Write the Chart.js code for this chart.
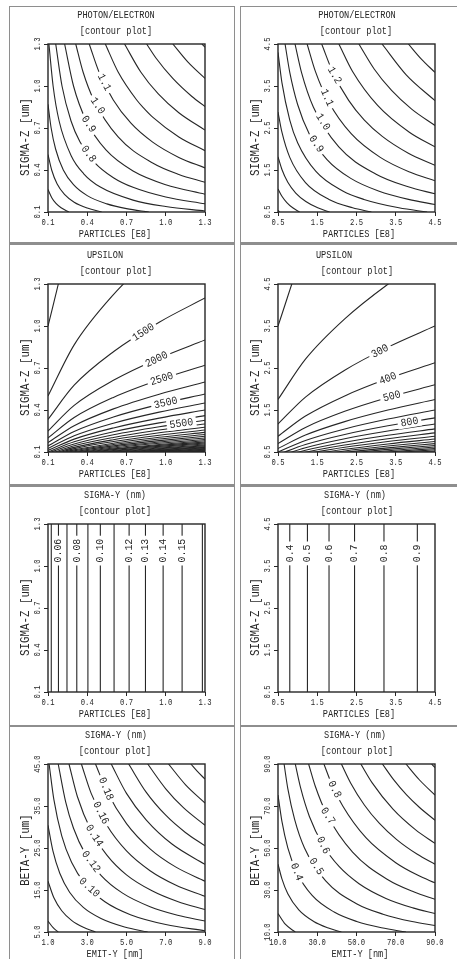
<!DOCTYPE html>
<html>
<head>
<meta charset="utf-8">
<title>contour plots</title>
<script src="https://cdn.jsdelivr.net/npm/chart.js@4.4.1/dist/chart.umd.min.js"></script>
<style>
  html, body { margin: 0; padding: 0; background: #fff; }
  body { position: relative; width: 457px; height: 959px; overflow: hidden; }
  canvas { position: absolute; z-index: 1; }
  .rule { position: absolute; background: #8e8e8e; z-index: 2; }
</style>
</head>
<body>
<script>
// tick labels
const partTicksA = [0.1, 0.4, 0.7, 1.0, 1.3]
const partTicksB = [0.5, 1.5, 2.5, 3.5, 4.5]
const emitTicksA = [1.0, 3.0, 5.0, 7.0, 9.0]
const betaTicksA = [5.0, 15.0, 25.0, 35.0, 45.0]
const emitTicksB = [10.0, 30.0, 50.0, 70.0, 90.0]
const betaTicksB = [10.0, 30.0, 50.0, 70.0, 90.0]

// photon/electron, left
const photonA = [
  [[0.1,0.26],[0.13,0.2],[0.161,0.161],[0.2,0.13],[0.26,0.1]],
  [[0.1,0.51],[0.128,0.4],[0.17,0.3],[0.226,0.226],[0.3,0.17],[0.4,0.128],[0.51,0.1]],
  [[0.1,0.87],[0.124,0.7],[0.158,0.55],[0.217,0.4],[0.295,0.295],[0.4,0.217],[0.55,0.158],[0.7,0.124],[0.87,0.1]],
  [[0.107,1.3],[0.139,1.0],[0.185,0.75],[0.278,0.5],[0.373,0.373],[0.5,0.278],[0.75,0.185],[1.0,0.139],[1.3,0.107]],
  [[0.159,1.3],[0.207,1.0],[0.276,0.75],[0.345,0.6],[0.455,0.455],[0.6,0.345],[0.75,0.276],[1.0,0.207],[1.3,0.159]],
  [[0.227,1.3],[0.295,1.0],[0.393,0.75],[0.543,0.543],[0.75,0.393],[1.0,0.295],[1.3,0.227]],
  [[0.312,1.3],[0.368,1.1],[0.45,0.9],[0.636,0.636],[0.9,0.45],[1.1,0.368],[1.3,0.312]],
  [[0.415,1.3],[0.49,1.1],[0.599,0.9],[0.734,0.734],[0.9,0.599],[1.1,0.49],[1.3,0.415]],
  [[0.538,1.3],[0.636,1.1],[0.778,0.9],[0.837,0.837],[0.9,0.778],[1.1,0.636],[1.3,0.538]],
  [[0.685,1.3],[0.809,1.1],[0.943,0.943],[1.1,0.809],[1.3,0.685]],
  [[0.854,1.3],[0.925,1.2],[1.054,1.054],[1.2,0.925],[1.3,0.854]],
  [[1.054,1.3],[1.17,1.17],[1.3,1.054]],
  [[1.277,1.3],[1.3,1.277]]
]
const photonALabels = [
  { text: '0.8', curve: 4, x: 0.41 },
  { text: '0.9', curve: 5, x: 0.41 },
  { text: '1.0', curve: 6, x: 0.479 },
  { text: '1.1', curve: 7, x: 0.53 }
]

// photon/electron, right
const photonB = [
  [[0.5,0.54],[0.52,0.52],[0.54,0.5]],
  [[0.5,1.05],[0.6,0.875],[0.725,0.725],[0.875,0.6],[1.05,0.5]],
  [[0.5,1.814],[0.6,1.512],[0.75,1.209],[0.952,0.952],[1.209,0.75],[1.512,0.6],[1.814,0.5]],
  [[0.5,2.88],[0.6,2.4],[0.8,1.8],[1.2,1.2],[1.8,0.8],[2.4,0.6],[2.88,0.5]],
  [[0.5,4.3],[0.6,3.58],[0.8,2.69],[1.0,2.15],[1.466,1.466],[2.15,1.0],[2.69,0.8],[3.58,0.6],[4.3,0.5]],
  [[0.68,4.5],[0.8,3.825],[1.0,3.06],[1.3,2.354],[1.749,1.749],[2.354,1.3],[3.06,1.0],[3.825,0.8],[4.5,0.68]],
  [[0.933,4.5],[1.1,3.818],[1.4,3.0],[2.049,2.049],[3.0,1.4],[3.818,1.1],[4.5,0.933]],
  [[1.242,4.5],[1.45,3.855],[1.8,3.106],[2.364,2.364],[3.106,1.8],[3.855,1.45],[4.5,1.242]],
  [[1.613,4.5],[1.9,3.821],[2.3,3.157],[2.694,2.694],[3.157,2.3],[3.821,1.9],[4.5,1.613]],
  [[2.051,4.5],[2.4,3.846],[3.038,3.038],[3.846,2.4],[4.5,2.051]],
  [[2.56,4.5],[2.95,3.905],[3.394,3.394],[3.905,2.95],[4.5,2.56]],
  [[3.151,4.5],[3.766,3.766],[4.5,3.151]],
  [[3.822,4.5],[4.147,4.147],[4.5,3.822]]
]
const photonBLabels = [
  { text: '0.9', curve: 5, x: 1.475 },
  { text: '1.0', curve: 6, x: 1.644 },
  { text: '1.1', curve: 7, x: 1.746 },
  { text: '1.2', curve: 8, x: 1.94 }
]

// upsilon, left: one row of sigma-z per contour level
const upsAX = [0.1, 0.3, 0.6, 0.95, 1.3]
const upsALevels = [500, 1000, 1500, 2000, 2500, 3000, 3500, 4000, 4500, 5000, 5500, 6000,
  6500, 7000, 7500, 8000, 8500, 9000, 9500, 10000, 10500, 11000, 11500, 12000,
  12500, 13000, 13500, 14000, 14500, 15000, 15500, 16000, 16500, 17000, 17500, 18000]
const upsAY = [
  [1.0, 1.73, 2.448, 3.08, 3.6],
  [0.5, 0.865, 1.224, 1.54, 1.8],
  [0.333, 0.577, 0.816, 1.027, 1.2],
  [0.25, 0.433, 0.612, 0.77, 0.9],
  [0.2, 0.346, 0.49, 0.616, 0.72],
  [0.167, 0.288, 0.408, 0.513, 0.6],
  [0.143, 0.247, 0.35, 0.44, 0.514],
  [0.125, 0.216, 0.306, 0.385, 0.45],
  [0.111, 0.192, 0.272, 0.342, 0.4],
  [0.1, 0.173, 0.245, 0.308, 0.36],
  [0.091, 0.157, 0.223, 0.28, 0.327],
  [0.083, 0.144, 0.204, 0.257, 0.3],
  [0.077, 0.133, 0.188, 0.237, 0.277],
  [0.071, 0.124, 0.175, 0.22, 0.257],
  [0.067, 0.115, 0.163, 0.205, 0.24],
  [0.063, 0.108, 0.153, 0.193, 0.225],
  [0.059, 0.102, 0.144, 0.181, 0.212],
  [0.056, 0.096, 0.136, 0.171, 0.2],
  [0.053, 0.091, 0.129, 0.162, 0.189],
  [0.05, 0.087, 0.122, 0.154, 0.18],
  [0.048, 0.082, 0.117, 0.147, 0.171],
  [0.045, 0.079, 0.111, 0.14, 0.164],
  [0.043, 0.075, 0.106, 0.134, 0.157],
  [0.042, 0.072, 0.102, 0.128, 0.15],
  [0.04, 0.069, 0.098, 0.123, 0.144],
  [0.038, 0.067, 0.094, 0.118, 0.138],
  [0.037, 0.064, 0.091, 0.114, 0.133],
  [0.036, 0.062, 0.087, 0.11, 0.129],
  [0.034, 0.06, 0.084, 0.106, 0.124],
  [0.033, 0.058, 0.082, 0.103, 0.12],
  [0.032, 0.056, 0.079, 0.099, 0.116],
  [0.031, 0.054, 0.077, 0.096, 0.113],
  [0.03, 0.052, 0.074, 0.093, 0.109],
  [0.029, 0.051, 0.072, 0.091, 0.106],
  [0.029, 0.049, 0.07, 0.088, 0.103],
  [0.028, 0.048, 0.068, 0.086, 0.1]
]
const upsALabelAt = [
  { level: 1500, x: 0.83 },
  { level: 2000, x: 0.93 },
  { level: 2500, x: 0.97 },
  { level: 3500, x: 1.0 },
  { level: 5500, x: 1.12 }
]

// upsilon, right
const upsBX = [0.5, 1.2, 2.2, 3.3, 4.5]
const upsBLevels = [100, 200, 300, 400, 500, 600, 700, 800, 900, 1000, 1100,
  1200, 1300, 1400, 1500, 1600, 1700, 1800, 1900, 2000, 2100]
const upsBY = [
  [3.5, 5.42, 7.34, 8.99, 10.5],
  [1.75, 2.71, 3.67, 4.495, 5.25],
  [1.167, 1.807, 2.447, 2.997, 3.5],
  [0.875, 1.355, 1.835, 2.248, 2.625],
  [0.7, 1.084, 1.468, 1.798, 2.1],
  [0.583, 0.903, 1.223, 1.498, 1.75],
  [0.5, 0.774, 1.049, 1.284, 1.5],
  [0.438, 0.678, 0.918, 1.124, 1.313],
  [0.389, 0.602, 0.816, 0.999, 1.167],
  [0.35, 0.542, 0.734, 0.899, 1.05],
  [0.318, 0.493, 0.667, 0.817, 0.955],
  [0.292, 0.452, 0.612, 0.749, 0.875],
  [0.269, 0.417, 0.565, 0.692, 0.808],
  [0.25, 0.387, 0.524, 0.642, 0.75],
  [0.233, 0.361, 0.489, 0.599, 0.7],
  [0.219, 0.339, 0.459, 0.562, 0.656],
  [0.206, 0.319, 0.432, 0.529, 0.618],
  [0.194, 0.301, 0.408, 0.499, 0.583],
  [0.184, 0.285, 0.386, 0.473, 0.553],
  [0.175, 0.271, 0.367, 0.45, 0.525],
  [0.167, 0.258, 0.35, 0.428, 0.5]
]
const upsBLabelAt = [
  { level: 300, x: 3.1 },
  { level: 400, x: 3.3 },
  { level: 500, x: 3.4 },
  { level: 800, x: 3.85 }
]

// sigma-y vs particles: vertical contours
const sigAX = [0.125, 0.18, 0.245, 0.32, 0.405, 0.5, 0.605, 0.72, 0.845, 0.98, 1.125, 1.28]
const sigALevels = ['0.05', '0.06', '0.07', '0.08', '0.09', '0.10', '0.11', '0.12', '0.13', '0.14', '0.15', '0.16']
const sigALabelled = [1, 3, 5, 7, 8, 9, 10]
const sigBX = [0.8, 1.25, 1.8, 2.45, 3.2, 4.05]
const sigBLevels = ['0.4', '0.5', '0.6', '0.7', '0.8', '0.9']
const sigBLabelled = [0, 1, 2, 3, 4, 5]

// sigma-y vs emittance and beta, left
const emitA = [
  [[1,7.6],[1.25,6.08],[1.52,5]],
  [[1,17.1],[1.3,13.15],[1.7,10.06],[2.2,7.77],[2.8,6.11],[3.42,5]],
  [[1,30.4],[1.25,24.3],[1.6,19],[2.1,14.48],[2.8,10.86],[3.7,8.22],[4.9,6.2],[6.08,5]],
  [[1.056,45],[1.3,36.5],[1.7,27.9],[2.2,21.6],[2.9,16.4],[3.9,12.2],[5.2,9.13],[7.0,6.79],[9,5.28]],
  [[1.52,45],[1.9,36],[2.3,29.7],[2.9,23.6],[3.7,18.5],[4.8,14.25],[6.2,11.03],[7.6,9.0],[9,7.6]],
  [[2.07,45],[2.5,37.2],[3.2,29.1],[4.0,23.3],[5.0,18.6],[6.3,14.8],[7.6,12.25],[9,10.34]],
  [[2.7,45],[3.2,38],[4.0,30.4],[5.0,24.3],[6.2,19.6],[7.5,16.2],[9,13.5]],
  [[3.42,45],[4.0,38.5],[5.0,30.8],[6.2,24.8],[7.5,20.5],[9,17.1]],
  [[4.22,45],[5.0,38],[6.0,31.7],[7.3,26],[9,21.1]],
  [[5.11,45],[6.0,38.3],[7.0,32.8],[8.0,28.7],[9,25.5]],
  [[6.08,45],[7.0,39.1],[7.9,34.6],[9,30.4]],
  [[7.14,45],[8.0,40.1],[9,35.7]],
  [[8.28,45],[8.6,43.3],[9,41.4]]
]
const emitALabels = [
  { text: '0.10', curve: 3, x: 3.1 },
  { text: '0.12', curve: 4, x: 3.19 },
  { text: '0.14', curve: 5, x: 3.36 },
  { text: '0.16', curve: 6, x: 3.69 },
  { text: '0.18', curve: 7, x: 3.95 }
]

// sigma-y vs emittance and beta, right
const emitB = [
  [[10,18.8],[13.7,13.7],[18.8,10]],
  [[10,42.3],[12,35.3],[15,28.2],[20.6,20.5],[28.2,15],[35.3,12],[42.3,10]],
  [[10,75.2],[12,62.7],[15,50.1],[19.5,38.6],[27.4,27.4],[38.6,19.5],[50.1,15],[62.7,12],[75.2,10]],
  [[13.1,90],[15,78.3],[18.5,63.5],[23.5,50],[34.3,34.3],[50,23.5],[63.5,18.5],[78.3,15],[90,13.1]],
  [[18.8,90],[21.5,78.7],[26,65],[33,51.3],[41.1,41.2],[51.3,33],[65,26],[78.7,21.5],[90,18.8]],
  [[25.6,90],[29,79.4],[35,65.8],[48,48],[65.8,35],[79.4,29],[90,25.6]],
  [[33.4,90],[37,81.3],[43,70],[54.8,54.9],[70,43],[81.3,37],[90,33.4]],
  [[42.3,90],[47,81],[54,70.5],[61.7,61.7],[70.5,54],[81,47],[90,42.3]],
  [[52.2,90],[58,81],[68.6,68.5],[80,58.75],[90,52.2]],
  [[63.2,90],[69,82.4],[75.4,75.4],[82,69.4],[90,63.2]],
  [[75.2,90],[82,82.5],[90,75.2]],
  [[88.3,90],[90,88.3]]
]
const emitBLabels = [
  { text: '0.4', curve: 2, x: 19.5 },
  { text: '0.5', curve: 3, x: 29.5 },
  { text: '0.6', curve: 4, x: 33 },
  { text: '0.7', curve: 5, x: 35.4 },
  { text: '0.8', curve: 6, x: 38.8 }
]

const ink = '#262626'
const monoFont = '"Liberation Mono", "DejaVu Sans Mono", monospace'

function fromLevels(xs, ys) {
  return ys.map(row => row.map((v, i) => [xs[i], v]))
}

function verticals(xs, yTicks) {
  return xs.map(v => [[v, yTicks[0]], [v, yTicks[yTicks.length - 1]]])
}

function levelLabels(levels, at) {
  return at.map(a => ({ text: String(a.level), curve: levels.indexOf(a.level), x: a.x }))
}

function drawText(ctx, str, x, y, angle, size, squeeze) {
  ctx.save()
  ctx.translate(x, y)
  ctx.rotate(angle)
  ctx.scale(squeeze, 1)
  ctx.font = size + 'px ' + monoFont
  ctx.textAlign = 'center'
  ctx.textBaseline = 'middle'
  ctx.fillText(str, 0, 0)
  ctx.restore()
}

function textPlugin(p) {
  return {
    id: 'panelText',
    afterDatasetsDraw(chart) {
      const { ctx, chartArea: a, scales: { x, y } } = chart
      ctx.save()

      // contour labels, each cut into its line
      p.labels.forEach(l => {
        const pts = p.curves[l.curve]
        let lx, ly, ang
        if (l.angle !== undefined) {
          lx = pts[0][0]; ly = l.y; ang = l.angle
        } else {
          let i = pts.findIndex((q, k) => k < pts.length - 1 && l.x >= q[0] && l.x <= pts[k + 1][0])
          if (i < 0) i = 0
          const q0 = pts[i], q1 = pts[i + 1]
          lx = l.x
          ly = q0[1] + (q1[1] - q0[1]) * (l.x - q0[0]) / (q1[0] - q0[0])
          ang = Math.atan2(y.getPixelForValue(q1[1]) - y.getPixelForValue(q0[1]),
                           x.getPixelForValue(q1[0]) - x.getPixelForValue(q0[0]))
        }
        const px = x.getPixelForValue(lx), py = y.getPixelForValue(ly)
        ctx.save()
        ctx.translate(px, py)
        ctx.rotate(ang)
        ctx.font = '11px ' + monoFont
        const w = ctx.measureText(l.text).width * 0.9
        ctx.fillStyle = '#fff'
        ctx.fillRect(-w / 2 - 3, -5.5, w + 6, 11)
        ctx.restore()
        ctx.fillStyle = ink
        drawText(ctx, l.text, px, py, ang, 11, 0.9)
      })

      ctx.strokeStyle = ink
      ctx.lineWidth = 1.4
      ctx.strokeRect(a.left, a.top, a.right - a.left, a.bottom - a.top)

      ctx.fillStyle = ink
      drawText(ctx, p.title, p.titleX, 15, 0, 10.5, 0.82)
      drawText(ctx, '[contour plot]', p.subX, 31, 0, 10.5, 0.82)
      drawText(ctx, p.xTitle, p.xTitleX, 234, 0, 10.5, 0.82)
      drawText(ctx, p.yTitle, 26, p.yTitleY, -Math.PI / 2, 12, 0.9)
      p.xTicks.forEach(v => drawText(ctx, v.toFixed(1), x.getPixelForValue(v), 223, 0, 9, 0.8))
      p.yTicks.forEach(v => drawText(ctx, v.toFixed(1), 38, y.getPixelForValue(v), -Math.PI / 2, 9, 0.8))
      ctx.restore()
    }
  }
}

const panels = [
  { left: 0, top: 0, xTicks: partTicksA, yTicks: partTicksA, curves: photonA, labels: photonALabels,
    title: 'PHOTON/ELECTRON', titleX: 116, subX: 116, xTitle: 'PARTICLES [E8]', xTitleX: 115,
    yTitle: 'SIGMA-Z [um]', yTitleY: 137 },
  { left: 230, top: 0, xTicks: partTicksB, yTicks: partTicksB, curves: photonB, labels: photonBLabels,
    title: 'PHOTON/ELECTRON', titleX: 127, subX: 126, xTitle: 'PARTICLES [E8]', xTitleX: 129,
    yTitle: 'SIGMA-Z [um]', yTitleY: 137 },
  { left: 0, top: 240, xTicks: partTicksA, yTicks: partTicksA, curves: fromLevels(upsAX, upsAY),
    labels: levelLabels(upsALevels, upsALabelAt),
    title: 'UPSILON', titleX: 105, subX: 116, xTitle: 'PARTICLES [E8]', xTitleX: 115,
    yTitle: 'SIGMA-Z [um]', yTitleY: 137 },
  { left: 230, top: 240, xTicks: partTicksB, yTicks: partTicksB, curves: fromLevels(upsBX, upsBY),
    labels: levelLabels(upsBLevels, upsBLabelAt),
    title: 'UPSILON', titleX: 104, subX: 127, xTitle: 'PARTICLES [E8]', xTitleX: 129,
    yTitle: 'SIGMA-Z [um]', yTitleY: 137 },
  { left: 0, top: 480, xTicks: partTicksA, yTicks: partTicksA, curves: verticals(sigAX, partTicksA),
    labels: sigALabelled.map(i => ({ text: sigALevels[i], curve: i, y: 1.11, angle: -Math.PI / 2 })),
    straight: true,
    title: 'SIGMA-Y (nm)', titleX: 115, subX: 115, xTitle: 'PARTICLES [E8]', xTitleX: 115,
    yTitle: 'SIGMA-Z [um]', yTitleY: 137 },
  { left: 230, top: 480, xTicks: partTicksB, yTicks: partTicksB, curves: verticals(sigBX, partTicksB),
    labels: sigBLabelled.map(i => ({ text: sigBLevels[i], curve: i, y: 3.8, angle: -Math.PI / 2 })),
    straight: true,
    title: 'SIGMA-Y (nm)', titleX: 125, subX: 127, xTitle: 'PARTICLES [E8]', xTitleX: 129,
    yTitle: 'SIGMA-Z [um]', yTitleY: 137 },
  { left: 0, top: 720, xTicks: emitTicksA, yTicks: betaTicksA, curves: emitA, labels: emitALabels,
    title: 'SIGMA-Y (nm)', titleX: 116, subX: 115, xTitle: 'EMIT-Y [nm]', xTitleX: 115,
    yTitle: 'BETA-Y [um]', yTitleY: 130 },
  { left: 230, top: 720, xTicks: emitTicksB, yTicks: betaTicksB, curves: emitB, labels: emitBLabels,
    title: 'SIGMA-Y (nm)', titleX: 125, subX: 127, xTitle: 'EMIT-Y [nm]', xTitleX: 130,
    yTitle: 'BETA-Y [um]', yTitleY: 130 }
]

panels.forEach(p => {
  const canvas = document.createElement('canvas')
  canvas.width = 230
  canvas.height = 244
  canvas.style.left = p.left + 'px'
  canvas.style.top = p.top + 'px'
  document.body.appendChild(canvas)

  const axis = (ticks, fit) => ({
    type: 'linear',
    min: ticks[0],
    max: ticks[ticks.length - 1],
    afterBuildTicks: s => { s.ticks = ticks.map(v => ({ value: v })) },
    afterFit: fit,
    ticks: { display: false },
    grid: { drawOnChartArea: false, drawTicks: true, tickLength: 4, color: ink, lineWidth: 1 },
    border: { display: false }
  })

  new Chart(canvas.getContext('2d'), {
    type: 'scatter',
    data: {
      datasets: p.curves.map(c => ({
        data: c.map(([cx, cy]) => ({ x: cx, y: cy })),
        showLine: true,
        borderColor: ink,
        borderWidth: 1.1,
        pointRadius: 0,
        cubicInterpolationMode: p.straight ? 'default' : 'monotone',
        tension: 0
      }))
    },
    options: {
      responsive: false,
      animation: false,
      devicePixelRatio: 1,
      events: [],
      layout: { padding: { top: 44, right: 25, left: 0, bottom: 0 } },
      plugins: { legend: { display: false }, tooltip: { enabled: false } },
      scales: {
        x: axis(p.xTicks, s => { s.height = 32 }),
        y: axis(p.yTicks, s => { s.width = 48 })
      }
    },
    plugins: [textPlugin(p)]
  })
})

// scanned page frame around the panels
const rules = [
  [9, 5.5, 226, 1.5], [240, 5.5, 217, 1.5],
  [9, 242, 226, 2.5], [240, 242, 217, 2.5],
  [9, 484, 226, 2.5], [240, 484, 217, 2.5],
  [9, 724.5, 226, 2.5], [240, 724.5, 217, 2.5],
  [8.5, 6, 1.3, 953], [233.5, 6, 1.3, 953], [239.5, 6, 1.5, 953]
]
rules.forEach(([l, t, w, h]) => {
  const d = document.createElement('div')
  d.className = 'rule'
  d.style.left = l + 'px'
  d.style.top = t + 'px'
  d.style.width = w + 'px'
  d.style.height = h + 'px'
  document.body.appendChild(d)
})
</script>
</body>
</html>
